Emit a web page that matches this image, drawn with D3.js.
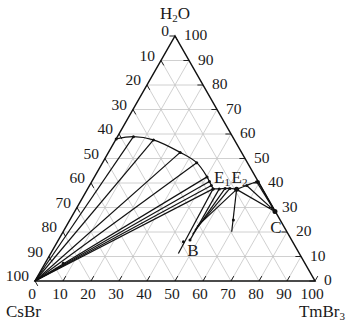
<!DOCTYPE html>
<html lang="en">
<head>
  <meta charset="UTF-8" />
  <title>CsBr - TmBr3 - H2O</title>
  <script src="https://d3js.org/d3.v7.min.js"></script>
  <style>
    body { margin: 0; background: #fff; }
    svg text { font-family: "Liberation Serif", "Times New Roman", serif; fill: #1a1a1a; }
    .grid { stroke: #c4c4c4; stroke-width: 0.8; fill: none; }
    .tie { stroke: #111; stroke-width: 1.2; fill: none; }
    .curve { stroke: #111; stroke-width: 1.2; fill: none; }
  </style>
</head>
<body>
  <svg width="349" height="325"></svg>

  <script>
    // values are [TmBr3 %, H2O %] (CsBr = rest)
    const ticks = d3.range(0, 101, 10);
    const branchCsBr = [[0, 58], [5.7, 58.9], [13.5, 57.6], [25.6, 52.5], [33.6, 48.3],
                        [40.2, 42.5], [42.0, 40.6], [43.5, 39.0], [44.8, 37.6]];
    const branchB = [[44.8, 37.6], [47.0, 37.6], [49.0, 37.8], [50.7, 37.8], [53.3, 37.4]];
    const branchC = [[53.3, 37.4], [56.1, 39.0], [58.9, 40.5], [59.5, 40.5]];
    const pointB = [47.0, 16.7];
    const pointC = [71.5, 28.4];
    const tiesB = [   // liquid -> end
      [[44.8, 37.6], [45.6, 11.2]],
      [[47.0, 37.6], [47.0, 16.7]],
      [[49.0, 37.8], [46.8, 19.0]],
      [[50.7, 37.8], [46.7, 20.8]],
      [[53.3, 37.4], [46.7, 22.2]],
      [[53.3, 37.4], [60.2, 20.1]]
    ];
    const residues = [[6.5, 7.2], [45.0, 16.0], [58.4, 24.9]];

    const svg = d3.select("svg");
    const X = d3.scaleLinear().domain([0, 100]).range([35, 315]);
    const Y = d3.scaleLinear().domain([0, 100]).range([281, 36]);
    const pt = d => [X(d[0] + d[1] / 2), Y(d[1])];
    const line = d3.line().x(d => pt(d)[0]).y(d => pt(d)[1]);

    // grid
    const gridLines = [];
    ticks.slice(1, -1).forEach(v => {
      gridLines.push([[0, v], [100 - v, v]]);       // H2O const
      gridLines.push([[v, 0], [v, 100 - v]]);       // TmBr3 const
      gridLines.push([[100 - v, 0], [0, 100 - v]]); // CsBr const
    });
    svg.append("g").selectAll("path").data(gridLines).join("path")
      .attr("class", "grid").attr("d", line);

    // ticks
    const tl = 2;
    const tickLines = [];
    ticks.forEach(v => {
      tickLines.push([[v, 0], [v, tl]]);                          // bottom
      tickLines.push([[0, 100 - v], [tl, 100 - v - tl]]);         // left (CsBr)
      tickLines.push([[100 - v, v], [100 - v - tl, v]]);          // right (H2O)
    });
    svg.append("g").selectAll("path").data(tickLines).join("path")
      .attr("d", line).attr("stroke", "#222").attr("stroke-width", 1);

    // frame
    svg.append("path").attr("d", line([[0, 0], [100, 0], [0, 100], [0, 0]]) + "Z")
      .attr("fill", "none").attr("stroke", "#111").attr("stroke-width", 1.5);

    // tie lines from CsBr
    svg.append("g").selectAll("path").data(branchCsBr.slice(1)).join("path")
      .attr("class", "tie").attr("d", d => line([[0, 0], d]));
    svg.append("g").selectAll("path").data(tiesB).join("path")
      .attr("class", "tie").attr("d", line);
    svg.append("g").selectAll("path").data(branchC).join("path")
      .attr("class", "tie").attr("d", d => line([pointC, d]));

    // solubility curves
    svg.append("path").attr("class", "curve")
      .attr("d", line.curve(d3.curveCatmullRom)(branchCsBr));
    svg.append("path").attr("class", "curve").attr("d", line(branchB));
    svg.append("path").attr("class", "curve").attr("d", line(branchC));
    line.curve(d3.curveLinear);

    // points
    const dots = branchCsBr.concat(branchB, branchC, residues, [pointB]);
    svg.append("g").selectAll("circle").data(dots).join("circle")
      .attr("cx", d => pt(d)[0]).attr("cy", d => pt(d)[1]).attr("r", 1.5).attr("fill", "#111");
    svg.append("circle").attr("cx", pt(branchB[4])[0]).attr("cy", pt(branchB[4])[1])
      .attr("r", 2.5).attr("fill", "#111");
    svg.append("circle").attr("cx", pt(pointC)[0]).attr("cy", pt(pointC)[1])
      .attr("r", 2.5).attr("fill", "#111");

    // tick labels
    const fs = 15.5;
    svg.append("g").selectAll("text").data(ticks).join("text")
      .attr("x", v => pt([v, 0])[0] - 3).attr("y", 299)
      .attr("text-anchor", "middle").attr("font-size", fs).text(v => v);
    svg.append("g").selectAll("text").data(ticks).join("text")
      .attr("x", v => pt([0, 100 - v])[0] - 6).attr("y", v => pt([0, 100 - v])[1])
      .attr("text-anchor", "end").attr("font-size", fs).text(v => v);
    svg.append("g").selectAll("text").data(ticks).join("text")
      .attr("x", v => pt([100 - v, v])[0] + 9).attr("y", v => pt([100 - v, v])[1] + 4)
      .attr("text-anchor", "start").attr("font-size", fs).text(v => v);

    // titles
    const title = (x, y, anchor, base, sub, rest) => {
      const t = svg.append("text").attr("x", x).attr("y", y)
        .attr("text-anchor", anchor).attr("font-size", 17);
      t.append("tspan").text(base);
      if (sub) t.append("tspan").attr("font-size", 11).attr("dy", 3).text(sub);
      if (rest) t.append("tspan").attr("dy", -3).text(rest);
    };
    title(175, 19, "middle", "H", "2", "O");
    title(6, 317, "start", "CsBr");
    title(345, 317, "end", "TmBr", "3");

    // point labels
    const [e1x, e1y] = pt(branchB[0]);
    const [e2x, e2y] = pt(branchB[4]);
    title(e1x + 1, e1y - 6, "start", "E", "1");
    title(e2x - 5, e2y - 6, "start", "E", "2");
    const [bx, by] = pt(pointB);
    title(bx + 3, by + 16, "middle", "B");
    const [cx, cy] = pt(pointC);
    title(cx + 1, cy + 22, "middle", "C");
  </script>
</body>
</html>
